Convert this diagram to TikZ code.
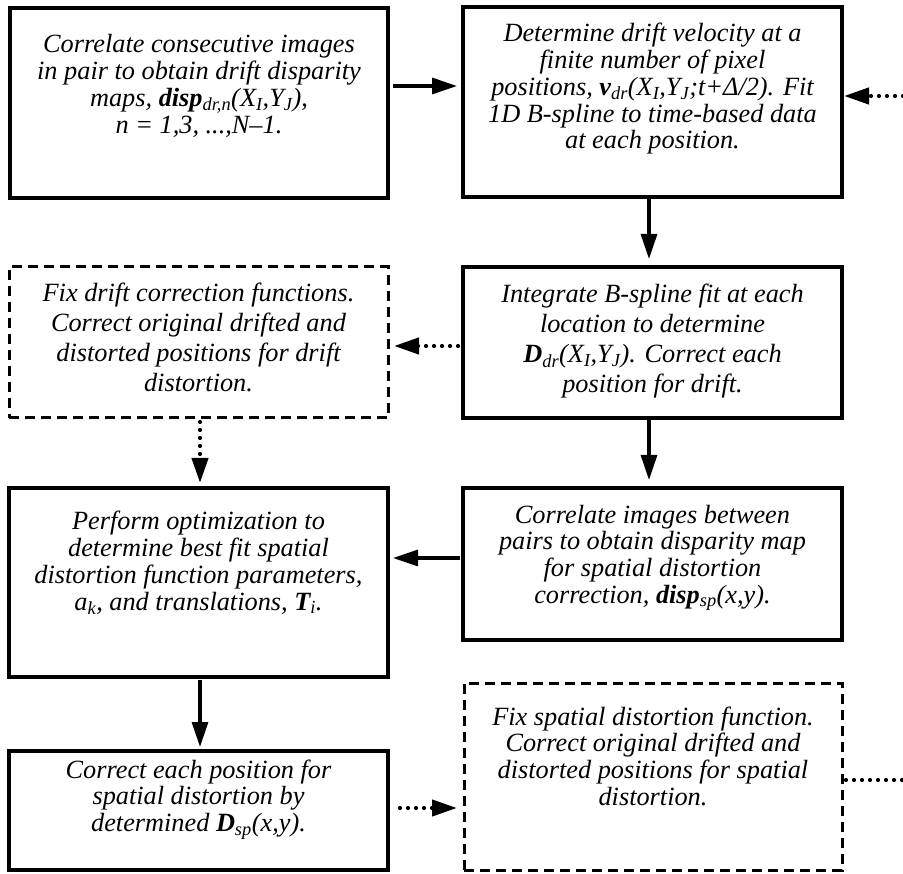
\documentclass[tikz,border=0pt]{standalone}
\usepackage{fontspec}
\setmainfont{Liberation Serif}
\usetikzlibrary{arrows.meta}
\newcommand\bxtext[5]{\parbox[c][#2][t]{#1}{\centering\fontsize{26.3}{#4}\selectfont\itshape\rule{0pt}{#3}#5}}
\tikzset{
  solidbox/.style={draw, line width=4pt, inner sep=0pt, outer sep=0pt},
  dashbox/.style={draw, line width=3pt, dash pattern=on 10pt off 6pt, inner sep=0pt, outer sep=0pt},
  flow/.style={line width=3.2pt, -{Triangle[length=25pt,width=16pt]}},
  dotflow/.style={line width=4.2pt, line cap=round, dash pattern=on 0pt off 8pt, -{Triangle[length=25pt,width=16pt]}},
  dotline/.style={line width=4.2pt, line cap=round, dash pattern=on 0pt off 8pt},
}
\begin{document}
\begin{tikzpicture}[x=1pt,y=-1pt]
\useasboundingbox (0,0) rectangle (903,874);
\node[solidbox] (b1) at (199,103) {\bxtext{378pt}{190pt}{45pt}{26.7pt}{Correlate consecutive images\\
in pair to obtain drift disparity\\
maps, \textbf{disp}\textsubscript{dr,n}(X\textsubscript{I},Y\textsubscript{J}),\\
n = 1,3, ...,N–1.}};
\node[solidbox] (b2) at (652.5,102) {\bxtext{379pt}{190pt}{35pt}{26.7pt}{Determine drift velocity at a\\
finite number of pixel\\
positions, \textbf{v}\textsubscript{dr}(X\textsubscript{I},Y\textsubscript{J};t+Δ/2). Fit\\
1D B-spline to time-based data\\
at each position.}};
\node[dashbox] (b3) at (198.5,342.5) {\bxtext{379pt}{151pt}{35pt}{30pt}{Fix drift correction functions.\\
Correct original drifted and\\
distorted positions for drift\\
distortion.}};
\node[solidbox] (b4) at (652.5,342.5) {\bxtext{379pt}{151pt}{36pt}{30pt}{Integrate B-spline fit at each\\
location to determine\\
\textbf{D}\textsubscript{dr}(X\textsubscript{I},Y\textsubscript{J}). Correct each\\
position for drift.}};
\node[solidbox] (b5) at (198.5,582.5) {\bxtext{379pt}{189pt}{42pt}{26.7pt}{Perform optimization to\\
determine best fit spatial\\
distortion function parameters,\\
a\textsubscript{k}, and translations, \textbf{T}\textsubscript{i}.}};
\node[solidbox] (b6) at (652.5,564) {\bxtext{379pt}{152pt}{35pt}{26.7pt}{Correlate images between\\
pairs to obtain disparity map\\
for spatial distortion\\
correction, \textbf{disp}\textsubscript{sp}(x,y).}};
\node[solidbox] (b7) at (198.5,810.5) {\bxtext{379pt}{119pt}{27pt}{26.7pt}{Correct each position for\\
spatial distortion by\\
determined \textbf{D}\textsubscript{sp}(x,y).}};
\node[dashbox] (b8) at (653,776.5) {\bxtext{378pt}{187pt}{42pt}{26.7pt}{Fix spatial distortion function.\\
Correct original drifted and\\
distorted positions for spatial\\
distortion.}};
\coordinate (rin) at (903,96);
\coordinate (rout) at (903,780);
% connectors
\draw[flow, shorten <=5pt, shorten >=6pt] ([yshift=17pt]b1.east) -- ([yshift=16pt]b2.west);
\draw[dotflow, shorten >=2pt] (rin) -- ([yshift=6pt]b2.east);
\draw[flow, shorten >=8pt] ([xshift=-3.5pt]b2.south) -- ([xshift=-3.5pt]b4.north);
\draw[dotflow, shorten <=5pt, shorten >=6pt] ([yshift=-3.5pt]b4.west) -- ([yshift=-3.5pt]b3.east);
\draw[dotflow, shorten <=4pt, shorten >=5pt] ([xshift=1.5pt]b3.south) -- ([xshift=1.5pt]b5.north);
\draw[flow, shorten >=8pt] ([xshift=-3.5pt]b4.south) -- ([xshift=-3.5pt]b6.north);
\draw[flow, shorten <=3pt, shorten >=5pt] ([yshift=6pt]b6.west) -- ([yshift=24.5pt]b5.east);
\draw[flow, shorten <=3pt, shorten >=4pt] ([xshift=1.5pt]b5.south) -- ([xshift=1.5pt]b7.north);
\draw[dotflow, shorten <=12pt, shorten >=7pt] ([yshift=2.5pt]b7.east) -- ([yshift=-31.5pt]b8.west);
\draw[dotline, shorten <=4pt] ([yshift=-3.5pt]b8.east) -- (rout);
\end{tikzpicture}
\end{document}
